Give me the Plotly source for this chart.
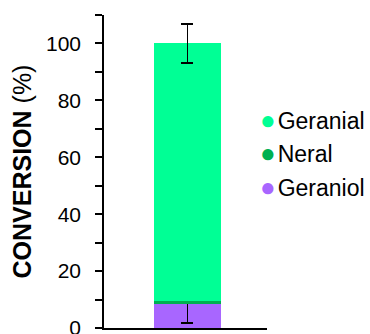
import plotly.graph_objects as go

categories = ["Sample"]
geraniol = [8.6]
geraniol_err = [6.8]
neral = [0.95]
geranial = [90.45]
geranial_err = [6.8]
legend_names = ["Geranial", "Neral", "Geraniol"]
y_tick_vals = [0, 20, 40, 60, 80, 100]
y_minor_vals = [10, 30, 50, 70, 90, 110]

col_geranial = "#00FF95"
col_neral = "#00B050"
col_geraniol = "#A866FF"
legend_colors = [col_geranial, col_neral, col_geraniol]

err_style = dict(type="data", color="black", thickness=1.6, width=6)

fig = go.Figure()
fig.add_trace(go.Bar(x=categories, y=geraniol, name="Geraniol", width=0.41,
                     marker=dict(color=col_geraniol, line_width=0),
                     error_y=dict(array=geraniol_err, **err_style)))
fig.add_trace(go.Bar(x=categories, y=neral, name="Neral", width=0.41,
                     marker=dict(color=col_neral, line_width=0)))
fig.add_trace(go.Bar(x=categories, y=geranial, name="Geranial", width=0.41,
                     marker=dict(color=col_geranial, line_width=0),
                     error_y=dict(array=geranial_err, **err_style)))

legend_y = [0.665, 0.558, 0.452]
for name, col, yy in zip(legend_names, legend_colors, legend_y):
    fig.add_annotation(xref="paper", yref="paper", x=0.945, y=yy, xanchor="left", yanchor="middle",
                       showarrow=False, align="left",
                       text=f"<span style='color:{col};font-size:26px'>●</span>\u200a{name}",
                       font=dict(family="Liberation Sans, Arial", size=23, color="black"))

fig.update_layout(
    width=370, height=334,
    margin=dict(l=104, r=103, t=15, b=6, autoexpand=False),
    barmode="stack",
    plot_bgcolor="white", paper_bgcolor="white",
    font=dict(family="Liberation Sans, Arial", size=21, color="black"),
    showlegend=False,
    xaxis=dict(showline=True, linecolor="black", linewidth=1.5, showticklabels=False, ticks="",
               range=[-0.512, 0.488], automargin=False),
    yaxis=dict(range=[0, 110], tickvals=y_tick_vals, ticks="outside", ticklen=7,
               tickwidth=1.5, tickcolor="black", showline=True, linecolor="black", linewidth=1.5,
               showgrid=False, zeroline=False, ticklabeloverflow="allow", ticklabelstandoff=10,
               tickfont=dict(size=21), automargin=False,
               minor=dict(tickvals=y_minor_vals, ticks="outside", ticklen=7, tickwidth=1.5, tickcolor="black"),
               title=dict(text="<b>CONVERSION</b> (%)", font=dict(size=25), standoff=7)),
)
fig.write_html("out.html")
